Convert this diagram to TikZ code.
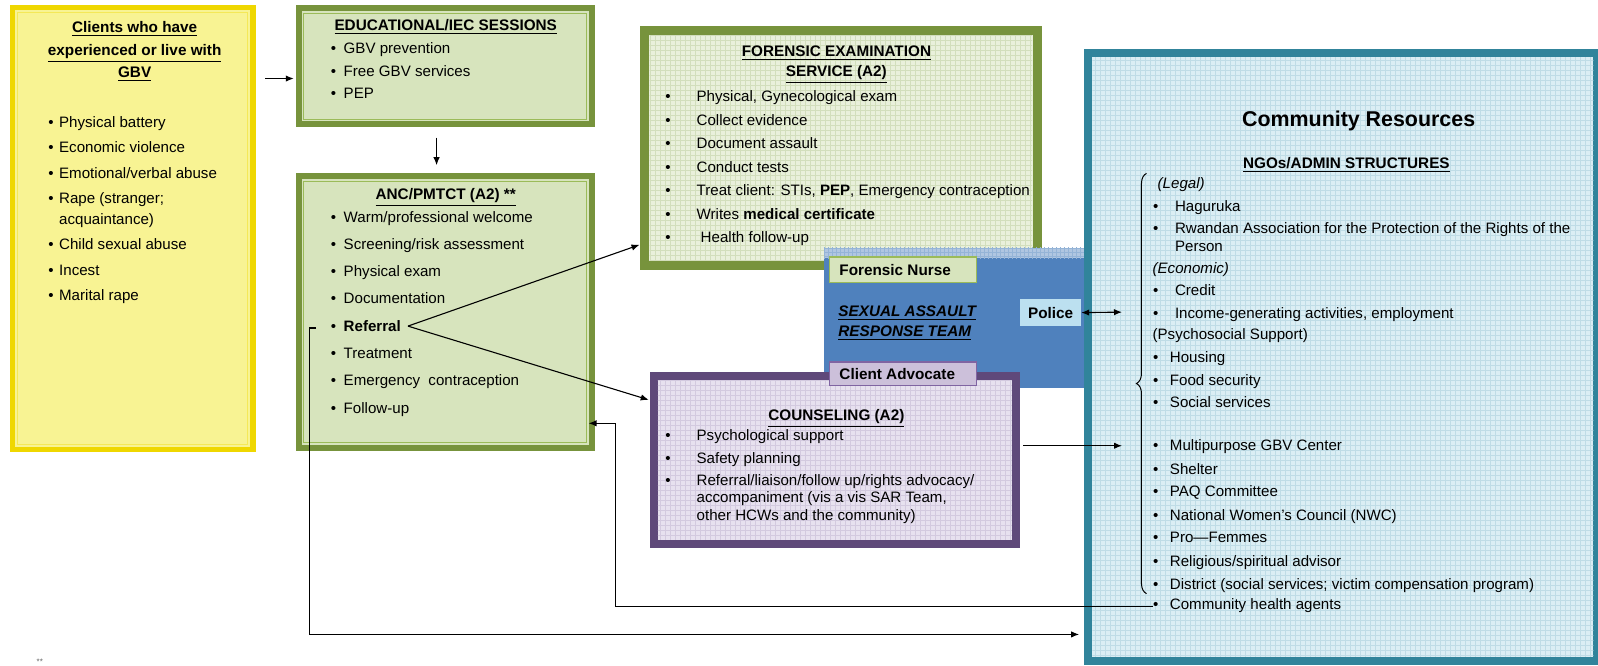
\documentclass[tikz,border=0pt]{standalone}
\usepackage{fontspec}
\setmainfont{Liberation Sans}
\usetikzlibrary{arrows.meta,calc,fit,decorations.pathreplacing}
\definecolor{ygold}{HTML}{EFD700}
\definecolor{yfill}{HTML}{F8F393}
\definecolor{ogreen}{HTML}{77933C}
\definecolor{lgreen}{HTML}{D7E4BD}
\definecolor{fgfill}{HTML}{E9F0DB}
\definecolor{fggrid}{HTML}{D2DEBC}
\definecolor{sblue}{HTML}{4F81BD}
\definecolor{purp}{HTML}{5F497A}
\definecolor{pfill}{HTML}{E7E1EF}
\definecolor{pgrid}{HTML}{D3CADF}
\definecolor{teal}{HTML}{31849B}
\definecolor{cfill}{HTML}{DBEEF4}
\definecolor{cgrid}{HTML}{BFDCE6}
\definecolor{polfill}{HTML}{BCE0F0}
\definecolor{cafill}{HTML}{CCC0DA}
\definecolor{caline}{HTML}{8064A2}
\definecolor{fnline}{HTML}{9BBB59}
\newcommand\Bitem[5]{%
  \node[bl] (#1b) at (#2,#4+5) {\textbullet};
  \node[tx] (#1) at (#3,#4+5) {#5};}
\begin{document}
\begin{tikzpicture}[x=0.51pt,y=-0.51pt,
  tx/.style={inner sep=0pt,outer sep=0pt,anchor=base west,font=\fontsize{7.55}{8.7}\selectfont},
  bl/.style={inner sep=0pt,outer sep=0pt,anchor=base,font=\fontsize{7.55}{8.7}\selectfont},
  ttl/.style={inner sep=0pt,outer sep=0pt,anchor=base,font=\fontsize{7.65}{8.7}\selectfont\bfseries},
  boxn/.style={inner sep=0pt,outer sep=0pt},
  lab/.style={inner sep=0pt,outer sep=0pt,anchor=base west,font=\fontsize{7.65}{8.7}\selectfont\bfseries},
  arr/.style={line width=0.55pt,-{Latex[length=4pt,width=3.2pt]}},
  darr/.style={line width=0.55pt,{Latex[length=4pt,width=3.2pt]}-{Latex[length=4pt,width=3.2pt]}},
  gridl/.style={line width=0.2pt}]
\useasboundingbox (0,0) rectangle (1566.67,652.94);
\fill[white] (0,0) rectangle (1566.67,652.94);

% ---------- Yellow box ----------
\node[boxn,fit={(12,7) (248,441)},draw=ygold,line width=2.6pt,fill=yfill] (yel) {};
\draw[yfill!60!ygold,line width=0.5pt] (17,12) rectangle (243,436);
\node[ttl] (y1) at (132,32) {\underline{Clients who have}};
\node[ttl] (y2) at (132,54) {\underline{experienced or live with}};
\node[ttl] (y3) at (132,76) {\underline{GBV}};
\Bitem{ya}{50}{58}{120}{Physical battery}
\Bitem{yb}{50}{58}{145}{Economic violence}
\Bitem{yc}{50}{58}{170}{Emotional/verbal abuse}
\Bitem{yd}{50}{58}{195}{Rape (stranger;}
\node[tx] (yd2) at (58,220) {acquaintance)};
\Bitem{ye}{50}{58}{240}{Child sexual abuse}
\Bitem{yf}{50}{58}{265}{Incest}
\Bitem{yg}{50}{58}{290}{Marital rape}

% ---------- Educational box ----------
\node[boxn,fit={(293,8) (580,122)},draw=ogreen,line width=3pt,fill=lgreen] (edu) {};
\draw[fnline,line width=0.5pt] (298,13) rectangle (575,117);
\node[ttl] (e0) at (437,30) {\underline{EDUCATIONAL/IEC SESSIONS}};
\Bitem{ea}{327}{337}{47}{GBV prevention}
\Bitem{eb}{327}{337}{70}{Free GBV services}
\Bitem{ec}{327}{337}{92}{PEP}

% ---------- ANC box ----------
\node[boxn,fit={(293,173) (580,439)},draw=ogreen,line width=3pt,fill=lgreen] (anc) {};
\draw[fnline,line width=0.5pt] (298,178) rectangle (575,434);
\node[ttl] (a0) at (437,196) {\underline{ANC/PMTCT (A2) **}};
\Bitem{aa}{327}{337}{213}{Warm/professional welcome}
\Bitem{ab}{327}{337}{240}{Screening/risk assessment}
\Bitem{ac}{327}{337}{266}{Physical exam}
\Bitem{ad}{327}{337}{293}{Documentation}
\Bitem{ae}{327}{337}{320}{\textbf{Referral}}
\Bitem{af}{327}{337}{346}{Treatment}
\Bitem{ag}{327}{337}{373}{Emergency\ \ contraception}
\Bitem{ah}{327}{337}{400}{Follow-up}

% ---------- Forensic box ----------
\node[boxn,fit={(632,30) (1017,260)},draw=ogreen,line width=4.5pt,fill=fgfill] (for) {};
\begin{scope}
\clip (637,35) rectangle (1012,255);
\draw[fggrid,gridl,step=2.5pt] (600,0) grid (1040,280);
\end{scope}
\node[ttl] (f0) at (820,55) {\underline{FORENSIC EXAMINATION}};
\node[ttl] (f1) at (820,75) {\underline{SERVICE (A2)}};
\Bitem{fa}{655}{683}{95}{Physical, Gynecological exam}
\Bitem{fb}{655}{683}{118}{Collect evidence}
\Bitem{fc}{655}{683}{141}{Document assault}
\Bitem{fd}{655}{683}{164}{Conduct tests}
\Bitem{fe}{655}{683}{187}{Treat client: STIs, \textbf{PEP}, Emergency contraception}
\Bitem{ff}{655}{683}{210}{Writes \textbf{medical certificate}}
\Bitem{fg}{655}{687}{233}{Health follow-up}

% ---------- SART blue box ----------
\node[boxn,fit={(808,243) (1075,380)},fill=sblue] (sart) {};
\fill[sblue!45!white] (808,243) rectangle (1075,253);
\begin{scope}
\clip (808,243) rectangle (1075,253);
\draw[sblue!60!white,gridl,step=2pt] (800,240) grid (1080,256);
\end{scope}
\node[lab,font=\fontsize{7.65}{8.7}\selectfont\bfseries\itshape] (s1) at (822,310) {\underline{SEXUAL ASSAULT}};
\node[lab,font=\fontsize{7.65}{8.7}\selectfont\bfseries\itshape] (s2) at (822,330) {\underline{RESPONSE TEAM}};

% ---------- Counseling box ----------
\node[boxn,fit={(641,369) (996,533)},draw=purp,line width=4pt,fill=pfill] (cou) {};
\begin{scope}
\clip (645,373) rectangle (992,529);
\draw[pgrid,gridl,step=2.5pt] (630,360) grid (1010,540);
\end{scope}
\node[ttl] (c0) at (820,412) {\underline{COUNSELING (A2)}};
\Bitem{ca}{655}{683}{427}{Psychological support}
\Bitem{cb}{655}{683}{449}{Safety planning}
\Bitem{cc}{655}{683}{471}{Referral/liaison/follow up/rights advocacy/}
\node[tx] (cc2) at (683,493) {accompaniment (vis a vis SAR Team,};
\node[tx] (cc3) at (683,510) {other HCWs and the community)};

% ---------- Community box ----------
\node[boxn,fit={(1067,52) (1566,648)},draw=teal,line width=4pt,fill=cfill] (com) {};
\begin{scope}
\clip (1071,56) rectangle (1562,644);
\draw[cgrid,gridl,step=2.5pt] (1060,40) grid (1570,660);
\end{scope}
\node[inner sep=0pt,anchor=base,font=\fontsize{10.7}{12}\selectfont\bfseries] (k0) at (1332,124) {Community Resources};
\node[ttl] (k1) at (1320,165) {\underline{NGOs/ADMIN STRUCTURES}};
\node[tx,font=\fontsize{7.55}{8.7}\selectfont\itshape] (kl) at (1135,185) {(Legal)};
\Bitem{ka}{1133}{1152}{202}{Haguruka}
\Bitem{kb}{1133}{1152}{224}{Rwandan Association for the Protection of the Rights of the}
\node[tx] (kb2) at (1152,247) {Person};
\node[tx,font=\fontsize{7.55}{8.7}\selectfont\itshape] (ke) at (1130,268) {(Economic)};
\Bitem{kc}{1133}{1152}{285}{Credit}
\Bitem{kd}{1133}{1152}{307}{Income-generating activities, employment}
\node[tx] (kp) at (1130,333) {(Psychosocial Support)};
\Bitem{kf}{1133}{1147}{350}{Housing}
\Bitem{kg}{1133}{1147}{373}{Food security}
\Bitem{kh}{1133}{1147}{395}{Social services}
\Bitem{ki}{1133}{1147}{437}{Multipurpose GBV Center}
\Bitem{kj}{1133}{1147}{460}{Shelter}
\Bitem{kk}{1133}{1147}{482}{PAQ Committee}
\Bitem{kl2}{1133}{1147}{505}{National Women’s Council (NWC)}
\Bitem{km}{1133}{1147}{527}{Pro—Femmes}
\Bitem{kn}{1133}{1147}{550}{Religious/spiritual advisor}
\Bitem{ko}{1133}{1147}{573}{District (social services; victim compensation program)}
\Bitem{kq}{1133}{1147}{593}{Community health agents}
\draw[line width=0.5pt,decorate,decoration={brace,amplitude=5pt}] (1124,582) -- (1124,170);

% ---------- Labels over SART ----------
\node[boxn,fit={(813,252) (957,277)},draw=fnline,line width=0.6pt,fill=lgreen] (fn) {};
\node[lab] (fnt) at (823,270) {Forensic Nurse};
\node[boxn,fit={(813,355) (957,378)},draw=caline,line width=0.6pt,fill=cafill] (ca) {};
\node[lab] (cat) at (823,372) {Client Advocate};
\node[boxn,fit={(1000,293) (1060,320)},fill=polfill] (pol) {};
\node[inner sep=0pt,font=\fontsize{7.65}{8.7}\selectfont\bfseries] (polt) at (pol.center) {Police};

% ---------- Connectors ----------
\coordinate (p1) at (260,77);
\coordinate (p2) at (288,77);
\draw[arr] (p1) -- (p2);
\coordinate (p3) at (428,135);
\coordinate (p4) at (428,162);
\draw[arr] (p3) -- (p4);
\coordinate (r1) at ($(ae.east)+(7,0)$);
\coordinate (r0) at ($(aeb.center)+(-24,0)$);
\coordinate (fin) at (627,240);
\coordinate (cin) at (636,392);
\draw[arr] (r1) -- (fin);
\draw[arr] (r1) -- (cin);
\coordinate (bk2) at (1058,622);
\draw[arr] ($(r0)+(7,0)$) -- (r0) |- (bk2);
\coordinate (rt1) at ($(kqb.center)+(-3,0)$);
\coordinate (rt3) at (603,415);
\coordinate (rt4) at (577,415);
\draw[arr] (rt1) -| (rt3) -- (rt4);
\coordinate (cc1) at (1003,437);
\coordinate (cc4) at (1100,437);
\draw[arr] (cc1) -- (cc4);
\coordinate (po2) at (1100,306);
\draw[darr] (pol.east) -- (po2);

% footnote marker
\node[tx,font=\fontsize{4}{5}\selectfont,text=black!60] (fnote) at (36,651) {**};
\end{tikzpicture}
\end{document}
